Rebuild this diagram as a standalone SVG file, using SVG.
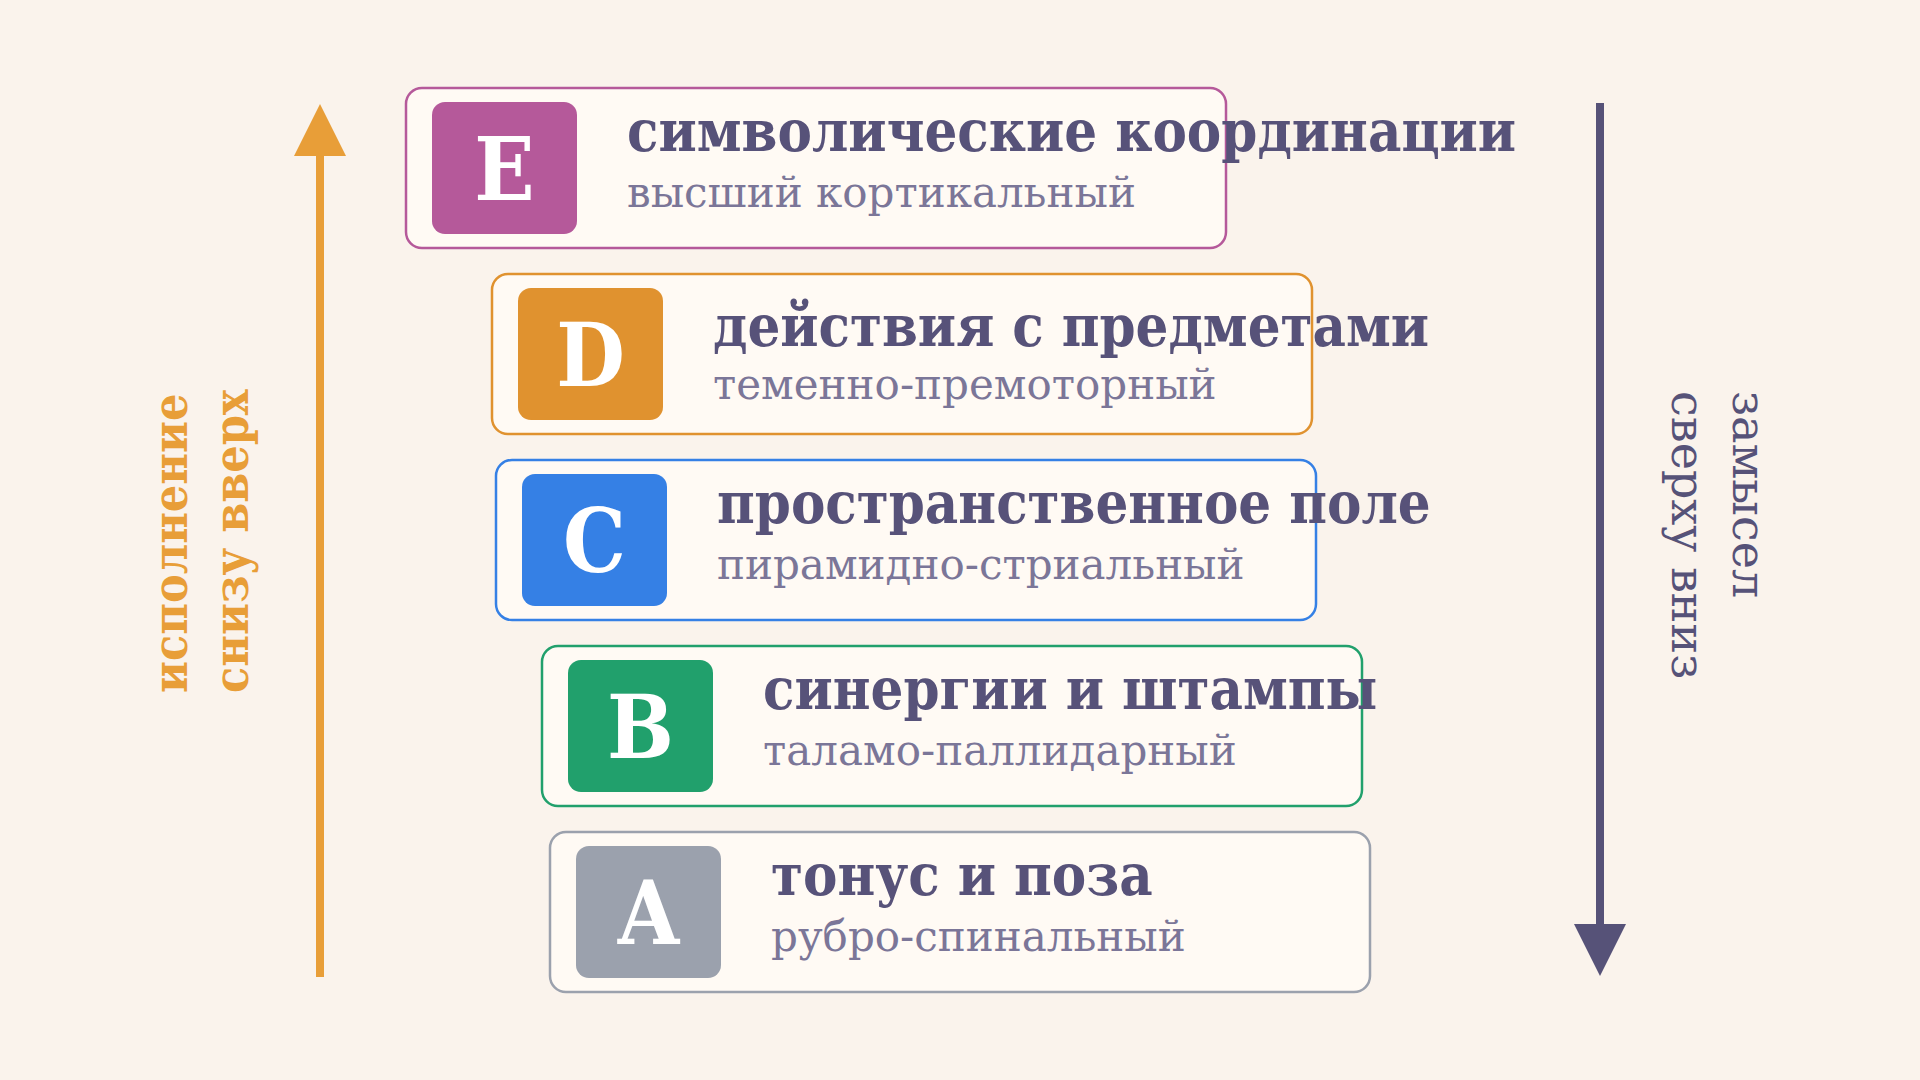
<svg xmlns="http://www.w3.org/2000/svg" width="1920" height="1080" viewBox="0 0 1920 1080">
<style>
.box{fill:#FFFAF4;stroke-width:2.5}
.badge-t{font-family:"DejaVu Serif Condensed","DejaVu Serif",serif;font-stretch:condensed;font-weight:bold;font-size:88px;fill:#FFFFFF;text-anchor:middle}
.title{font-family:"DejaVu Serif Condensed","DejaVu Serif",serif;font-stretch:condensed;font-weight:bold;font-size:57.4px;fill:#575279}
.sub{font-family:"DejaVu Serif",serif;font-size:42px;fill:#7B7698}
.side-l{font-family:"DejaVu Serif Condensed","DejaVu Serif",serif;font-stretch:condensed;font-weight:bold;font-size:48px;fill:#E89E38}
.side-r{font-family:"DejaVu Serif",serif;font-size:46px;fill:#565278}
</style>
<rect x="0" y="0" width="1920" height="1080" fill="#FAF3EC"/>
<g id="connectors">
<line x1="320" y1="977" x2="320" y2="150" stroke="#E89E38" stroke-width="8"/>
<polygon points="320,104 294,156 346,156" fill="#E89E38"/>
<line x1="1600" y1="103" x2="1600" y2="930" stroke="#565278" stroke-width="8"/>
<polygon points="1574,924 1626,924 1600,976" fill="#565278"/>
</g>
<g id="label-left">
<text class="side-l" transform="translate(187,693) rotate(-90)"><tspan x="0" y="0">исполнение</tspan><tspan x="0" y="61">снизу вверх</tspan></text>
</g>
<g id="label-right">
<text class="side-r" transform="translate(1733,391) rotate(90)"><tspan x="0" y="0">замысел</tspan><tspan x="0" y="61">сверху вниз</tspan></text>
</g>
<g id="node-E">
<rect class="box" x="406" y="88" width="820" height="160" rx="16" stroke="#B5599A"/>
<rect x="432" y="102" width="145" height="132" rx="13" fill="#B5599A"/>
<text class="badge-t" x="504.5" y="200">E</text>
<text class="title" x="627" y="151">символические координации</text>
<text class="sub" x="627" y="207">высший кортикальный</text>
</g>
<g id="node-D">
<rect class="box" x="492" y="274" width="820" height="160" rx="16" stroke="#E0922F"/>
<rect x="518" y="288" width="145" height="132" rx="13" fill="#E0922F"/>
<text class="badge-t" x="590.5" y="386">D</text>
<text class="title" x="713" y="346">действия с предметами</text>
<text class="sub" x="713" y="399">теменно-премоторный</text>
</g>
<g id="node-C">
<rect class="box" x="496" y="460" width="820" height="160" rx="16" stroke="#3580E5"/>
<rect x="522" y="474" width="145" height="132" rx="13" fill="#3580E5"/>
<text class="badge-t" x="594.5" y="572">C</text>
<text class="title" x="717" y="523">пространственное поле</text>
<text class="sub" x="717" y="579">пирамидно-стриальный</text>
</g>
<g id="node-B">
<rect class="box" x="542" y="646" width="820" height="160" rx="16" stroke="#21A06C"/>
<rect x="568" y="660" width="145" height="132" rx="13" fill="#21A06C"/>
<text class="badge-t" x="640.5" y="758">B</text>
<text class="title" x="763" y="709">синергии и штампы</text>
<text class="sub" x="763" y="765">таламо-паллидарный</text>
</g>
<g id="node-A">
<rect class="box" x="550" y="832" width="820" height="160" rx="16" stroke="#9BA1AD"/>
<rect x="576" y="846" width="145" height="132" rx="13" fill="#9BA1AD"/>
<text class="badge-t" x="648.5" y="944">A</text>
<text class="title" x="771" y="895">тонус и поза</text>
<text class="sub" x="771" y="951">рубро-спинальный</text>
</g>
</svg>
